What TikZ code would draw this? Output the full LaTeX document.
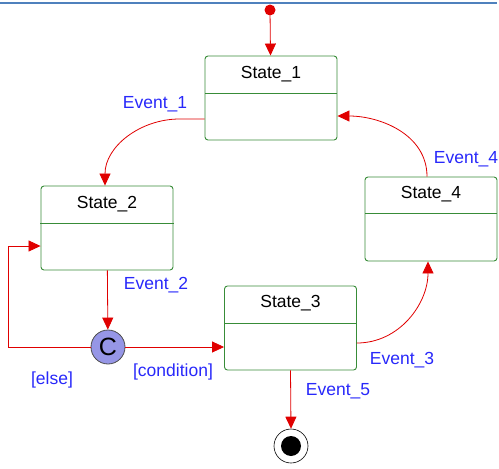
\documentclass[tikz,border=0pt]{standalone}
\usepackage{fontspec}
\setmainfont{Liberation Sans}
\usetikzlibrary{arrows.meta}
\definecolor{stgreen}{RGB}{56,140,56}
\definecolor{trred}{RGB}{224,0,0}
\definecolor{lblblue}{RGB}{40,40,250}
\definecolor{topblue}{RGB}{79,129,189}
\definecolor{choicefill}{RGB}{150,150,230}
\tikzset{
  statebox/.style={draw=stgreen, line width=0.9pt, rounded corners=3pt,
    minimum width=132pt, minimum height=84pt, inner sep=0pt},
  divider/.style={draw=stgreen, line width=0.9pt},
  title/.style={font=\fontsize{17.5}{20}\selectfont, text=black, inner sep=0pt},
  evlabel/.style={font=\fontsize{17.5}{20}\selectfont, text=lblblue, inner sep=0pt},
  trans/.style={draw=trred, line width=0.8pt,
    -{Triangle[length=12pt,width=11pt]}, fill=none},
}
\begin{document}
\begin{tikzpicture}[x=1pt,y=-1pt]
\useasboundingbox (0,0) rectangle (499,469);
% header rule
\draw[topblue, line width=2pt] (0,3) -- (497,3);

% initial pseudo-state
\node[circle, fill=trred, minimum size=11pt, inner sep=0pt] (init) at (270,10) {};

% states
\node[statebox] (s1) at (271,98) {};
\draw[divider] (205,93) -- (337,93);
\node[title] (t1) at (271,74) {State\_1};

\node[statebox] (s2) at (107,228) {};
\draw[divider] (40,223) -- (174,223);
\node[title] (t2) at (107,204) {State\_2};

\node[statebox] (s3) at (290.5,328) {};
\draw[divider] (224,323) -- (357,323);
\node[title] (t3) at (290.5,303) {State\_3};

\node[statebox] (s4) at (431,219) {};
\draw[divider] (365,213) -- (497,213);
\node[title] (t4) at (431,194) {State\_4};

% choice point
\node[circle, draw=black!70, fill=choicefill, line width=0.8pt,
  minimum size=34pt, inner sep=0pt, font=\fontsize{25}{26}\selectfont] (c) at (108,347) {C};

% final state
\node[circle, draw=black, line width=0.6pt, minimum size=34pt, inner sep=0pt] (fin) at (291,446) {};
\node[circle, fill=black, minimum size=20pt, inner sep=0pt] (finin) at (291,446) {};

% transitions
\draw[trans] (init) -- (s1);
\draw[trans] ([yshift=-21pt]s1.west) -- ++(-25,0) to[out=180,in=90] ([xshift=-2pt]s2.north);
\draw[trans] (s2) -- (c);
\draw[trans] (c.west) -- (8,347) |- ([yshift=-18pt]s2.west);
\draw[trans] (c.east) -- (s3.west |- c.east);
\draw[trans] ([yshift=-15pt]s3.east) to[out=0,in=-90] ([xshift=-3pt]s4.south);
\draw[trans] ([xshift=-4pt]s4.north) to[out=90,in=0] ([yshift=-18pt]s1.east);
\draw[trans] (s3.south) -- (fin.north);

% transition labels
\node[evlabel] (l1) at (155,104) {Event\_1};
\node[evlabel] (l2) at (156,285) {Event\_2};
\node[evlabel] (l3) at (402,360) {Event\_3};
\node[evlabel] (l4) at (466,159) {Event\_4};
\node[evlabel] (l5) at (338,391) {Event\_5};
\node[evlabel] (le) at (52,380) {[else]};
\node[evlabel] (lc) at (173,372) {[condition]};
\end{tikzpicture}
\end{document}
